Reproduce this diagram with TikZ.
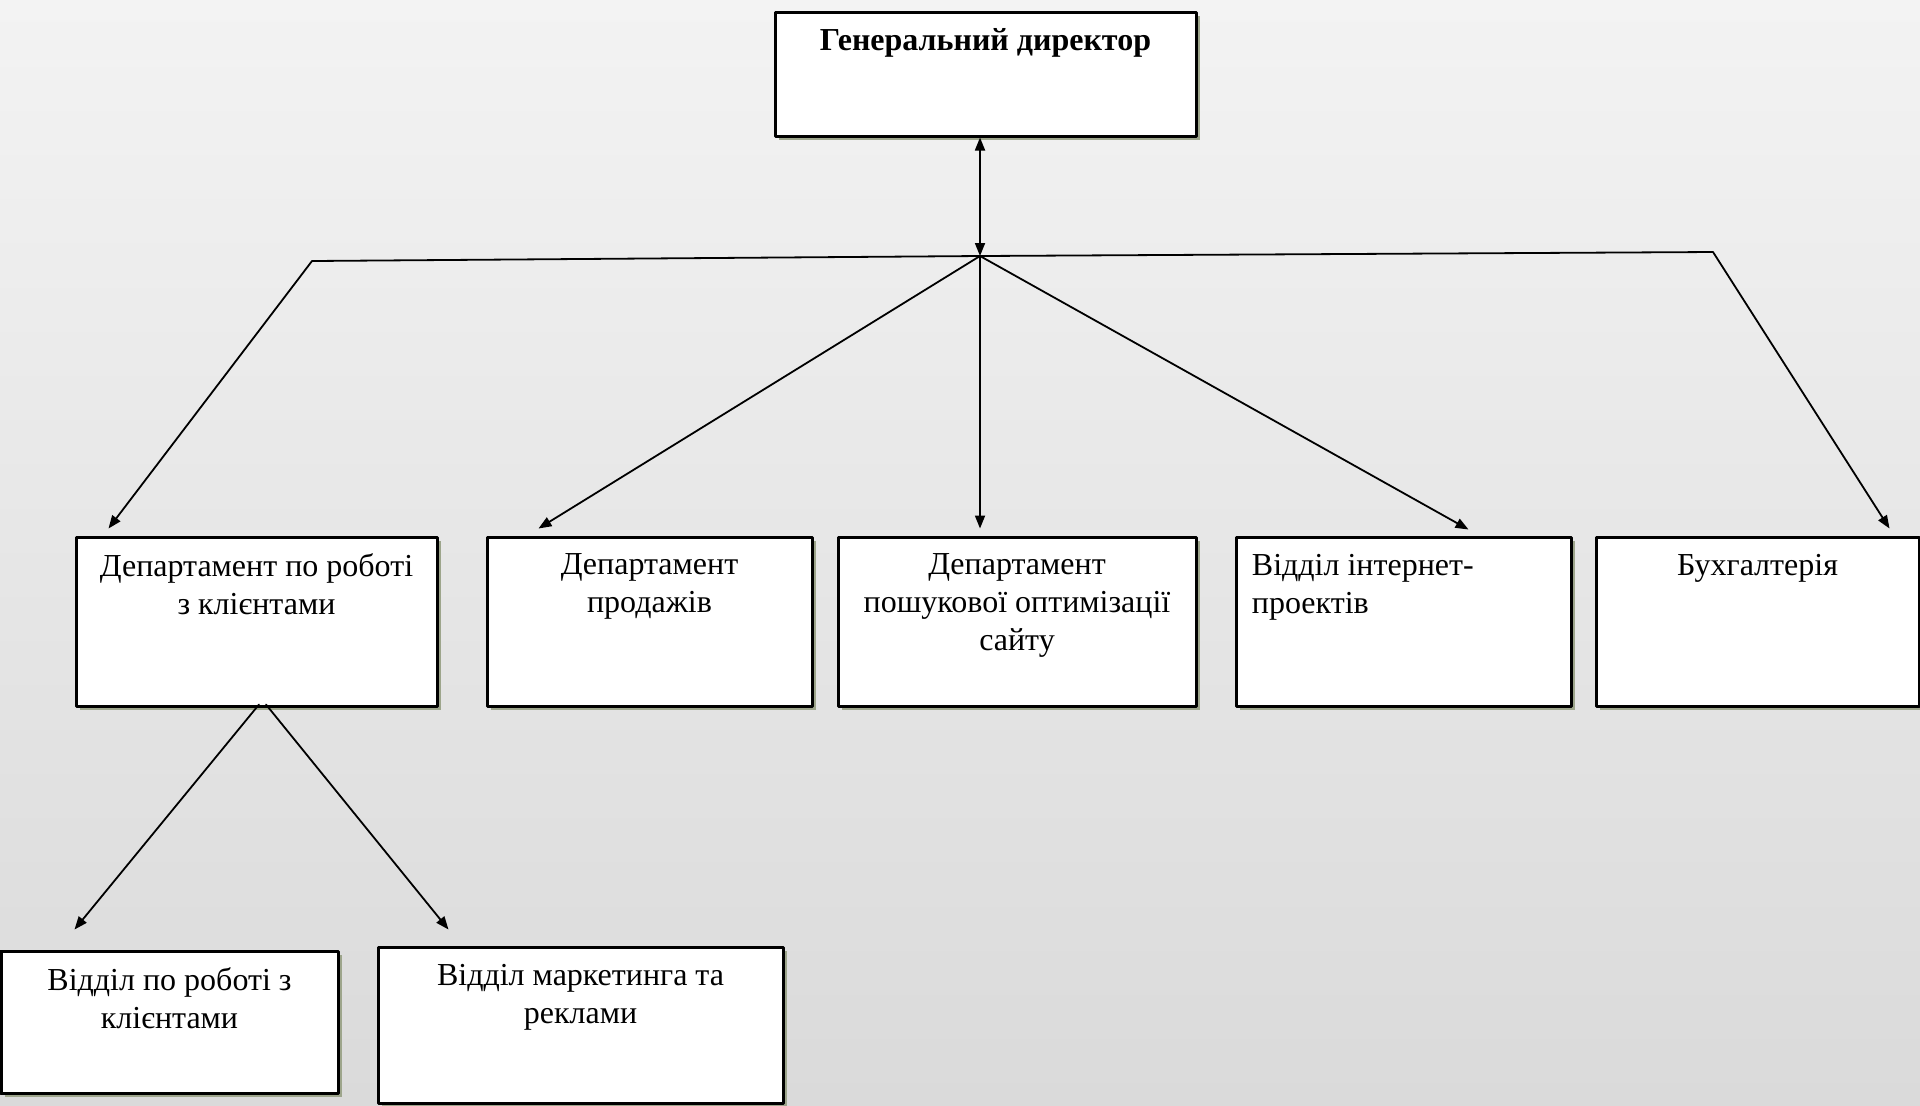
\documentclass[tikz,border=0pt]{standalone}
\usepackage{fontspec}
\setmainfont{Liberation Serif}
\usetikzlibrary{arrows.meta,positioning,shadows}
\definecolor{bgtop}{HTML}{F3F3F3}
\definecolor{bgbot}{HTML}{DADADA}
\definecolor{shadowc}{HTML}{9DA58B}

\begin{document}
\begin{tikzpicture}[x=0.5pt,y=-0.5pt,line cap=round,line join=round,
  unit/.style={rectangle,draw=black,line width=1.5pt,fill=white,inner sep=0pt,
    drop shadow={shadow xshift=2pt,shadow yshift=-2pt,fill=shadowc,opacity=1}},
  caption/.style={font=\fontsize{16}{19}\selectfont,align=center,inner sep=0pt},
  link/.style={line width=0.9pt,-{Triangle[length=6.5pt,width=5pt]}}]
\path[use as bounding box] (0,0) rectangle (1920,1105);
\shade[top color=bgtop,bottom color=bgbot] (0,0) rectangle (1920,1105);
\node[unit,minimum width=210.5pt,minimum height=62pt] (gd) at (985.5,74) {};
\node[caption,font=\fontsize{16}{19}\selectfont\bfseries,below=9pt of gd.north] (gdt) {Генеральний директор};
\node[unit,minimum width=180.5pt,minimum height=84.5pt] (d1) at (256.5,621.5) {};
\node[caption,below=9pt of d1.north] (d1t) {Департамент по роботі\\з клієнтами};
\node[unit,minimum width=162.5pt,minimum height=84.5pt] (d2) at (649.5,621.5) {};
\node[caption,below=9pt of d2.north] (d2t) {Департамент\\продажів};
\node[unit,minimum width=179pt,minimum height=84.5pt] (d3) at (1017,621.5) {};
\node[caption,below=9pt of d3.north] (d3t) {Департамент\\пошукової оптимізації\\сайту};
\node[unit,minimum width=167.5pt,minimum height=84.5pt] (d4) at (1403.5,621.5) {};
\node[caption,align=left,below right=9pt and 8.5pt of d4.north west] (d4t) {Відділ інтернет-\\проектів};
\node[unit,minimum width=161.5pt,minimum height=84.5pt] (d5) at (1757.5,621.5) {};
\node[caption,below=9pt of d5.north] (d5t) {Бухгалтерія};
\node[unit,minimum width=168.5pt,minimum height=71pt] (v1) at (169.5,1022) {};
\node[caption,below=9pt of v1.north] (v1t) {Відділ по роботі з\\клієнтами};
\node[unit,minimum width=202.5pt,minimum height=78pt] (v2) at (580.5,1025) {};
\node[caption,below=9pt of v2.north] (v2t) {Відділ маркетинга та\\реклами};
\coordinate (j) at (980,256);
\coordinate (cl) at (312,261);
\coordinate (cr) at (1713,252);
\draw[link,{Triangle[length=6.5pt,width=5pt]}-{Triangle[length=6.5pt,width=5pt]}] (j) -- (j |- gd.south);
\draw[link] (j) -- (cl) -- ([xshift=17pt,yshift=3.5pt]d1.north west);
\draw[link] (j) -- ([xshift=26.5pt,yshift=3.5pt]d2.north west);
\draw[link] (j) -- ([yshift=3.5pt]d3.north -| j);
\draw[link] (j) -- ([xshift=-52pt,yshift=3pt]d4.north east);
\draw[link] (j) -- (cr) -- ([xshift=-15.5pt,yshift=3.5pt]d5.north east);
\draw[link] ([xshift=1.25pt,yshift=1.5pt]d1.south) -- ([xshift=37.5pt,yshift=10pt]v1.north west);
\draw[link] ([xshift=4.75pt,yshift=1.5pt]d1.south) -- ([xshift=36pt,yshift=8pt]v2.north west);
\end{tikzpicture}
\end{document}
